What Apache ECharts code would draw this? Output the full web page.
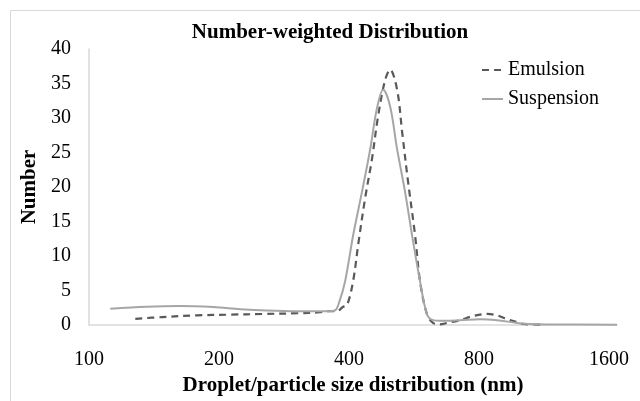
<!DOCTYPE html>
<html>
<head>
<meta charset="utf-8">
<script src="https://cdn.jsdelivr.net/npm/echarts@6/dist/echarts.min.js"></script>
<style>
  html, body { margin: 0; padding: 0; background: #fff; }
  #main { width: 640px; height: 401px; }
</style>
</head>
<body>
<div id="main"></div>
<script>
// droplet / particle size (nm) and number values
var emulsionSize = [128, 148, 178, 212, 253, 303, 343, 358, 375, 387, 396, 409, 420, 436, 452, 467, 485, 498, 517, 531, 548, 569, 584, 606, 626, 650, 675, 723, 775, 835, 880, 929, 980, 1011, 1110]
var emulsionValue = [0.9, 1.15, 1.4, 1.5, 1.6, 1.7, 1.85, 2.0, 2.0, 2.6, 2.9, 6.4, 11.6, 18.4, 24, 30.2, 35.5, 37.0, 34.1, 28, 20.8, 13, 6.4, 1.6, 0.3, 0.1, 0.3, 0.7, 1.3, 1.6, 1.4, 0.85, 0.4, 0.15, 0.05]

var suspensionSize = [112, 136, 162, 194, 224, 258, 303, 356, 371, 381, 392, 409, 429, 448, 464, 480, 498, 517, 539, 560, 584, 606, 626, 650, 723, 804, 880, 980, 1050, 1200, 1670]
var suspensionValue = [2.35, 2.65, 2.75, 2.6, 2.3, 2.1, 2.0, 2.0, 2.1, 3.6, 6.4, 13, 19.4, 25.5, 31.3, 34.1, 31.7, 25.5, 19.4, 13, 6.4, 1.6, 0.7, 0.6, 0.7, 0.85, 0.7, 0.3, 0.15, 0.08, 0.05]

var xTicks = [100, 200, 400, 800, 1600]
var xMax = 1670

// the x axis is log base 2 starting at 100 nm
function toAxis (s) { return Math.log2(s / 100) }
function pairs (sizes, values) {
  return sizes.map(function (s, i) { return [toAxis(s), values[i]] })
}

var font = 'Liberation Serif, Times New Roman, serif'
var chart = echarts.init(document.getElementById('main'))
chart.setOption({
  animation: false,
  backgroundColor: '#fff',
  graphic: [{
    type: 'rect',
    shape: { x: 10.5, y: 10.5, width: 700, height: 500 },
    style: { fill: 'none', stroke: '#d9d9d9', lineWidth: 1 }
  }],
  title: {
    text: 'Number-weighted Distribution',
    left: 325,
    textAlign: 'center',
    top: 17,
    textStyle: { fontFamily: font, fontWeight: 'bold', fontSize: 21, color: '#000' }
  },
  legend: {
    orient: 'vertical',
    left: 476,
    top: 55,
    itemWidth: 21,
    itemHeight: 14,
    itemGap: 9,
    itemStyle: { opacity: 0 },
    textStyle: { fontFamily: font, fontSize: 20, color: '#000' },
    data: ['Emulsion', 'Suspension']
  },
  grid: { left: 89, right: 23, top: 49, bottom: 73 },
  xAxis: {
    type: 'value',
    min: 0,
    max: toAxis(xMax),
    interval: 1,
    name: 'Droplet/particle size distribution (nm)',
    nameLocation: 'middle',
    nameGap: 50,
    nameTextStyle: { fontFamily: font, fontWeight: 'bold', fontSize: 21, color: '#000' },
    axisLine: { lineStyle: { color: '#d9d9d9', width: 1.5 } },
    axisTick: { show: false },
    splitLine: { show: false },
    axisLabel: {
      margin: 25,
      fontFamily: font,
      fontSize: 20,
      color: '#000',
      showMaxLabel: true,
      formatter: function (v) {
        var i = Math.round(v)
        return Math.abs(v - i) < 1e-6 && i < xTicks.length ? String(xTicks[i]) : ''
      }
    }
  },
  yAxis: {
    type: 'value',
    min: 0,
    max: 40,
    interval: 5,
    name: 'Number',
    nameLocation: 'middle',
    nameGap: 38,
    nameTextStyle: { fontFamily: font, fontWeight: 'bold', fontSize: 21, color: '#000' },
    axisLine: { show: true, lineStyle: { color: '#d9d9d9', width: 1.5 } },
    axisTick: { show: false },
    splitLine: { show: false },
    axisLabel: { margin: 18, fontFamily: font, fontSize: 20, color: '#000' }
  },
  series: [
    {
      name: 'Emulsion',
      type: 'line',
      smooth: 0.35,
      symbol: 'none',
      lineStyle: { color: '#595959', width: 2.2, type: [7, 5] },
      itemStyle: { color: '#595959' },
      data: pairs(emulsionSize, emulsionValue)
    },
    {
      name: 'Suspension',
      type: 'line',
      smooth: 0.35,
      symbol: 'none',
      lineStyle: { color: '#a6a6a6', width: 2 },
      itemStyle: { color: '#a6a6a6' },
      data: pairs(suspensionSize, suspensionValue)
    }
  ]
})
</script>
</body>
</html>
